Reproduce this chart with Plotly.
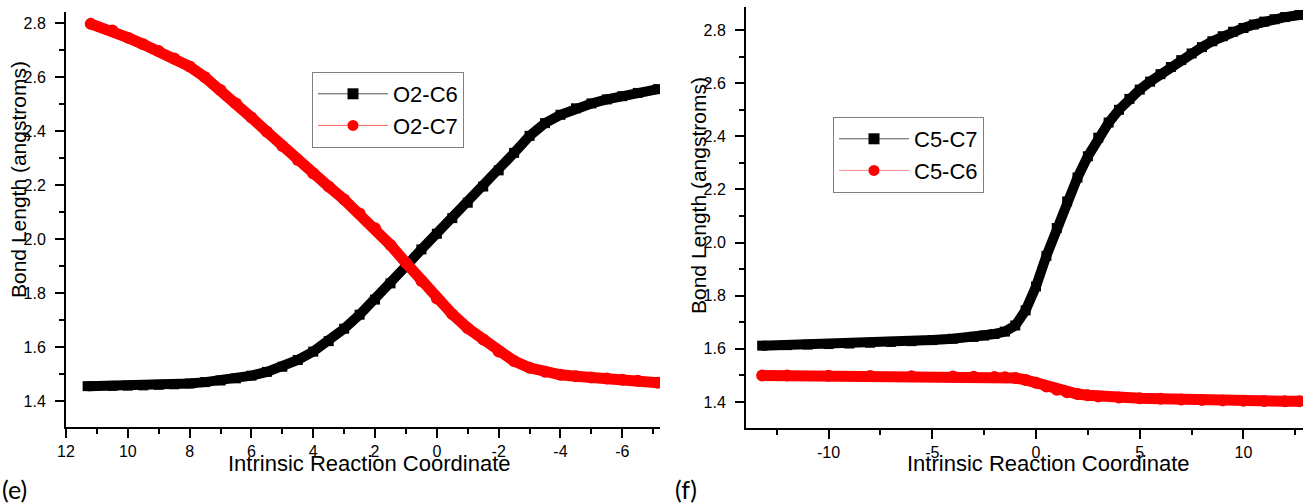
import plotly.graph_objects as go

# ---------------- data ----------------
# panel (e)
irc_e_c6 = [11.3, 10.5, 10, 9.5, 9, 8.5, 8, 7.5, 7, 6.5, 6, 5.5, 5, 4.5, 4, 3.5, 3, 2.5, 2, 1.5, 1,
            0.5, 0, -0.5, -1, -1.5, -2, -2.5, -3, -3.5, -4, -4.5, -5, -5.5, -6, -6.5, -7.15]
o2_c6 = [1.455, 1.456, 1.457, 1.458, 1.460, 1.462, 1.465, 1.470, 1.476, 1.484, 1.494, 1.508, 1.527,
         1.552, 1.583, 1.622, 1.668, 1.720, 1.776, 1.836, 1.900, 1.962, 2.020, 2.078, 2.135, 2.195,
         2.255, 2.320, 2.383, 2.430, 2.461, 2.485, 2.503, 2.518, 2.530, 2.542, 2.556]
irc_e_c7 = [11.2, 10.5, 10, 9.5, 9, 8.5, 8, 7.5, 7, 6.5, 6, 5.5, 5, 4.5, 4, 3.5, 3, 2.5, 2, 1.5, 1,
            0.5, 0, -0.5, -1, -1.5, -2, -2.5, -3, -3.5, -4, -4.5, -5, -5.5, -6, -6.5, -7.15]
o2_c7 = [2.798, 2.773, 2.747, 2.722, 2.697, 2.670, 2.640, 2.600, 2.553, 2.503, 2.451, 2.398, 2.345,
         2.293, 2.243, 2.195, 2.147, 2.095, 2.040, 1.978, 1.912, 1.845, 1.780, 1.722, 1.670, 1.628,
         1.583, 1.548, 1.523, 1.508, 1.497, 1.492, 1.487, 1.483, 1.479, 1.475, 1.468]

# panel (f)
irc_f_c7 = [-13.2, -12, -11, -10, -9, -8, -7, -6, -5, -4, -3, -2.5, -2, -1.5, -1, -0.5, 0, 0.5, 1,
            1.5, 2, 2.5, 3, 3.5, 4, 4.5, 5, 5.5, 6, 6.5, 7, 7.5, 8, 8.5, 9, 9.5, 10, 10.5, 11,
            11.5, 12, 12.7]
c5_c7 = [1.612, 1.614, 1.616, 1.618, 1.620, 1.623, 1.626, 1.629, 1.633, 1.638, 1.645, 1.650, 1.656,
         1.665, 1.688, 1.745, 1.835, 1.950, 2.055, 2.155, 2.245, 2.325, 2.395, 2.452, 2.500, 2.541,
         2.576, 2.606, 2.634, 2.661, 2.687, 2.712, 2.736, 2.758, 2.777, 2.794, 2.808, 2.821, 2.832,
         2.841, 2.849, 2.857]
irc_f_c6 = [-13.2, -12, -10, -8, -6, -4, -3, -2, -1.5, -1, -0.5, 0, 0.5, 1, 1.5, 2, 2.5, 3, 4, 5,
            6, 7, 8, 9, 10, 11, 12, 12.7]
c5_c6 = [1.500, 1.500, 1.499, 1.498, 1.497, 1.496, 1.495, 1.494, 1.493, 1.490, 1.483, 1.472, 1.458,
         1.446, 1.437, 1.430, 1.425, 1.421, 1.417, 1.414, 1.412, 1.409, 1.407, 1.406, 1.405, 1.404,
         1.403, 1.403]

# tick labels
e_xticks = [12, 10, 8, 6, 4, 2, 0, -2, -4, -6]
e_xticktext = ["12", "10", "8", "6", "4", "2", "0", "-2", "-4", "-6"]
f_xticks = [-10, -5, 0, 5, 10]
f_xticktext = ["-10", "-5", "0", "5", "10"]
yticks = [1.4, 1.6, 1.8, 2.0, 2.2, 2.4, 2.6, 2.8]
yticktext = ["1.4", "1.6", "1.8", "2.0", "2.2", "2.4", "2.6", "2.8"]

W, H = 1303, 503
FONT = "Liberation Sans, Arial, sans-serif"
TICKFONT = dict(family=FONT, size=16, color="black")

fig = go.Figure()
fig.update_layout(template="none", font=dict(family=FONT, size=16, color="black"))

def add_series(x, y, xa, ya, color, symbol, lw, ms):
    fig.add_trace(go.Scatter(x=x, y=y, xaxis=xa, yaxis=ya, mode="lines+markers",
                             line=dict(color=color, width=lw),
                             marker=dict(color=color, symbol=symbol, size=ms, line=dict(width=0)),
                             showlegend=False, hoverinfo="x+y"))

add_series(irc_e_c6, o2_c6, "x", "y", "black", "square", 10, 10)
add_series(irc_e_c7, o2_c7, "x", "y", "#ff0000", "circle", 11, 12)
add_series(irc_f_c7, c5_c7, "x2", "y2", "black", "square", 10, 10)
add_series(irc_f_c6, c5_c6, "x2", "y2", "#ff0000", "circle", 11, 12)

# legend entries
def add_legend(name, color, symbol, legend, group, linecolor):
    fig.add_trace(go.Scatter(x=[None], y=[None], mode="lines+markers", name=name,
                             line=dict(color=linecolor, width=1),
                             marker=dict(color=color, symbol=symbol, size=11, line=dict(width=0)),
                             legend=legend, legendgroup=group, showlegend=True,
                             xaxis="x", yaxis="y"))

add_legend("O2-C6", "black", "square", "legend", "a", "#555555")
add_legend("O2-C7", "#ff0000", "circle", "legend", "b", "#ff6060")
add_legend("C5-C7", "black", "square", "legend2", "c", "#555555")
add_legend("C5-C6", "#ff0000", "circle", "legend2", "d", "#ff9090")

def px_x(p):
    return p / W

def px_y(p):
    return 1 - p / H

def axis(**kw):
    d = dict(showline=True, linecolor="black", linewidth=2, ticks="outside",
             ticklen=9, tickwidth=1.5, tickcolor="black", showgrid=False,
             zeroline=False, mirror=False, automargin=False)
    d.update(kw)
    return d

legend_common = dict(bgcolor="rgba(255,255,255,1)", bordercolor="#808080", borderwidth=1,
                     font=dict(family=FONT, size=22, color="black"), xanchor="left",
                     yanchor="top", itemwidth=70, tracegroupgap=0, itemclick=False)

fig.update_layout(
    width=W, height=H, margin=dict(l=0, r=0, t=0, b=0, pad=0, autoexpand=False),
    paper_bgcolor="white", plot_bgcolor="white",
    xaxis=axis(domain=[px_x(66), px_x(660)], range=[12, -7.22], anchor="y",
               tickmode="array", tickvals=e_xticks, ticktext=e_xticktext,
               tickfont=TICKFONT,
               minor=dict(dtick=1, tick0=0, ticklen=5, tickwidth=1.5, tickcolor="black", ticks="outside")),
    yaxis=axis(domain=[px_y(427), px_y(12)], range=[1.3036, 2.842], anchor="x",
               tickmode="array", tickvals=yticks, ticktext=yticktext, ticklabelstandoff=6,
               tickfont=TICKFONT,
               minor=dict(dtick=0.1, tick0=1.3, ticklen=5, tickwidth=1.5, tickcolor="black", ticks="outside")),
    xaxis2=axis(domain=[px_x(746), 1.0], range=[-13.98, 12.87], anchor="y2",
                tickmode="array", tickvals=f_xticks, ticktext=f_xticktext,
                tickfont=TICKFONT,
                minor=dict(dtick=2.5, tick0=0, ticklen=5, tickwidth=1.5, tickcolor="black", ticks="outside")),
    yaxis2=axis(domain=[px_y(428), px_y(7)], range=[1.302, 2.887], anchor="x2",
                tickmode="array", tickvals=yticks, ticktext=yticktext, ticklabelstandoff=6,
                tickfont=TICKFONT,
                minor=dict(dtick=0.1, tick0=1.3, ticklen=5, tickwidth=1.5, tickcolor="black", ticks="outside")),
    legend=dict(x=px_x(312), y=px_y(72), **legend_common),
    legend2=dict(x=px_x(833), y=px_y(117), **legend_common),
)

xt_font = dict(family=FONT, size=22, color="black")
yt_font = dict(family=FONT, size=21, color="black")
annotations = [
    dict(text="Intrinsic Reaction Coordinate", x=px_x(369), y=px_y(463), xref="paper", yref="paper",
         showarrow=False, font=xt_font, xanchor="center", yanchor="middle"),
    dict(text="Intrinsic Reaction Coordinate", x=px_x(1048), y=px_y(463), xref="paper", yref="paper",
         showarrow=False, font=xt_font, xanchor="center", yanchor="middle"),
    dict(text="Bond Length (angstroms)", x=px_x(18), y=px_y(180), xref="paper", yref="paper",
         showarrow=False, font=yt_font, textangle=-90, xanchor="center", yanchor="middle"),
    dict(text="Bond Length (angstroms)", x=px_x(698), y=px_y(196), xref="paper", yref="paper",
         showarrow=False, font=yt_font, textangle=-90, xanchor="center", yanchor="middle"),
    dict(text="(e)", x=px_x(0), y=px_y(489), xref="paper", yref="paper", showarrow=False,
         font=dict(family="Lato, Open Sans, sans-serif", size=25, color="black"),
         xanchor="left", yanchor="middle"),
    dict(text="(f)", x=px_x(673), y=px_y(489), xref="paper", yref="paper", showarrow=False,
         font=dict(family="Lato, Open Sans, sans-serif", size=25, color="black"),
         xanchor="left", yanchor="middle"),
]
fig.update_layout(annotations=annotations)

fig.write_html("out.html", config={"displayModeBar": False},
               post_script="document.body.style.margin='0';document.body.style.padding='0';"
                           "document.body.style.overflow='hidden';")
